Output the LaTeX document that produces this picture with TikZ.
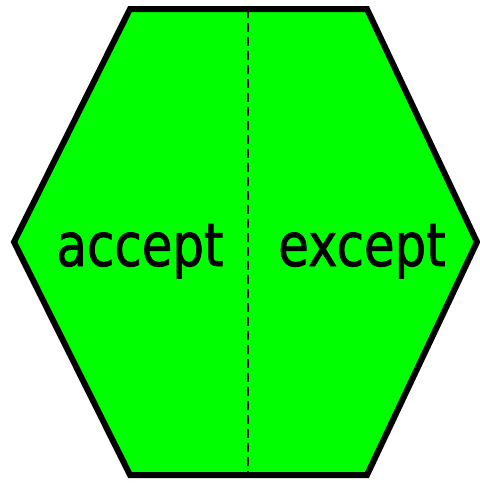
\documentclass[tikz,border=0pt]{standalone}
\usepackage{fontspec}
\newfontfamily\labelfont[FakeStretch=0.83,FakeBold=1.2]{DejaVu Sans}
\definecolor{hexgreen}{RGB}{0,255,0}
\tikzset{
  hexshape/.style={draw=black, fill=hexgreen, line width=6pt, line join=miter},
  divider/.style={draw=black, line width=2.5pt, dash pattern=on 9pt off 5pt},
  wordlabel/.style={inner sep=0pt, anchor=base, font=\labelfont\fontsize{60}{60}\selectfont}
}
\begin{document}
\begin{tikzpicture}[x=1pt,y=-1pt]
\useasboundingbox (0,0) rectangle (480,483);
\coordinate (tl) at (130,9);
\coordinate (tr) at (367,9);
\coordinate (r) at (477,242);
\coordinate (br) at (367,475);
\coordinate (bl) at (130,475);
\coordinate (l) at (14,242);
\path[hexshape] (tl) -- (tr) -- (r) -- (br) -- (bl) -- (l) -- cycle;
\coordinate (mt) at (248,9);
\coordinate (mb) at (248,475);
\draw[divider] (mt) -- (mb);
\node[wordlabel] (accept) at (140,266) {accept};
\node[wordlabel] (except) at (362,266) {except};
\end{tikzpicture}
\end{document}
